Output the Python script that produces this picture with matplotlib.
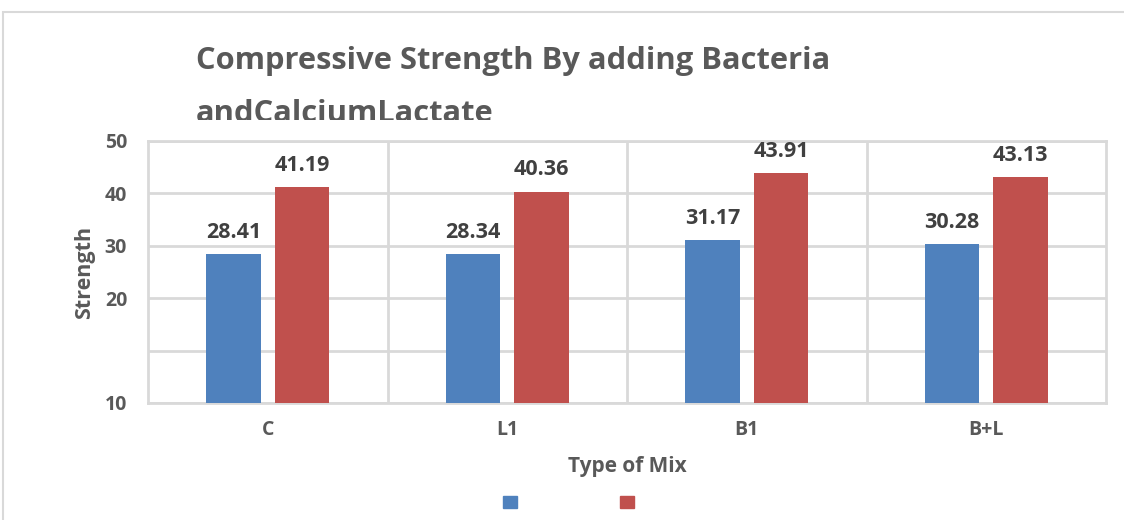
import matplotlib
matplotlib.use("Agg")
import matplotlib.pyplot as plt
from matplotlib.patches import Rectangle

# Data
categories = ["C", "L1", "B1", "B+L"]
series_a = [28.41, 28.34, 31.17, 30.28]
series_b = [41.19, 40.36, 43.91, 43.13]
ytick_values = [0, 10, 20, 30, 40, 50]
ytick_labels = ["10", "", "20", "30", "40", "50"]

blue = "#4F81BD"
red = "#C0504D"
grid_c = "#D9D9D9"
text_c = "#595959"
label_c = "#404040"

plt.rcParams["font.family"] = ["Open Sans", "DejaVu Sans"]
plt.rcParams["font.weight"] = "bold"

W, H = 1124, 520
fig = plt.figure(figsize=(W / 100, H / 100), dpi=100)

def fx(px):
    return px / W

def fy(py):
    return 1 - py / H

ax = fig.add_axes([fx(148), fy(403), fx(1106) - fx(148), fy(141) - fy(403)])

x = list(range(len(categories)))
bw = 0.226
off = 0.143
bars_a = ax.bar([i - off for i in x], series_a, width=bw, color=blue, zorder=3)
bars_b = ax.bar([i + off for i in x], series_b, width=bw, color=red, zorder=3)

for bars, vals in ((bars_a, series_a), (bars_b, series_b)):
    for b, v in zip(bars, vals):
        ax.annotate(f"{v:.2f}", (b.get_x() + b.get_width() / 2, v),
                    xytext=(0, 8), textcoords="offset points",
                    ha="center", va="bottom", fontsize=15.5,
                    fontweight="bold", color=label_c)

ax.set_xlim(-0.5, len(categories) - 0.5)
ax.set_ylim(0, 50)
ax.set_yticks(ytick_values)
ax.set_yticklabels(ytick_labels)
ax.set_xticks(x)
ax.set_xticklabels(categories)
ax.tick_params(axis="both", length=0, labelsize=14, colors=text_c)
ax.tick_params(axis="y", pad=15)
ax.tick_params(axis="x", pad=12)
for lab in ax.get_xticklabels() + ax.get_yticklabels():
    lab.set_fontweight("bold")

# Horizontal gridlines plus category separators
ax.yaxis.grid(True, color=grid_c, linewidth=2, zorder=0)
for sep in [0.5, 1.5, 2.5]:
    ax.axvline(sep, color=grid_c, linewidth=2, zorder=0)
for s in ax.spines.values():
    s.set_color(grid_c)
    s.set_linewidth(2)

ax.set_xlabel("Type of Mix", fontsize=15, fontweight="bold", color=text_c, labelpad=12)
ax.set_ylabel("Strength", fontsize=15.5, fontweight="bold", color=text_c, labelpad=7)

# Chart frame
fig.patches.append(Rectangle((fx(3), fy(H + 10)), 1.2, fy(12) - fy(H + 10),
                             transform=fig.transFigure, fill=False,
                             edgecolor="#D9D9D9", linewidth=1.5))

# Title (second line is cut off by the plot area)
fig.text(fx(196), fy(69), "Compressive Strength By adding Bacteria",
         fontsize=22.2, fontweight="bold", color=text_c, ha="left", va="baseline")
t2 = fig.text(fx(196), fy(122), "andCalciumLactate",
              fontsize=22.2, fontweight="bold", color=text_c, ha="left", va="baseline")
clip = Rectangle((0, fy(119.5)), 1, 1, transform=fig.transFigure)
t2.set_clip_path(clip)

# Legend (series without names)
leg = fig.legend(handles=[Rectangle((0, 0), 1, 1, color=blue),
                          Rectangle((0, 0), 1, 1, color=red)],
                 labels=["", ""], loc="center", ncol=2,
                 bbox_to_anchor=(fx(568.5), fy(503)), frameon=False,
                 handlelength=1.0, handleheight=1.0, handletextpad=0,
                 columnspacing=7.4, fontsize=10, borderpad=0)

fig.savefig("out.png", dpi=100)
